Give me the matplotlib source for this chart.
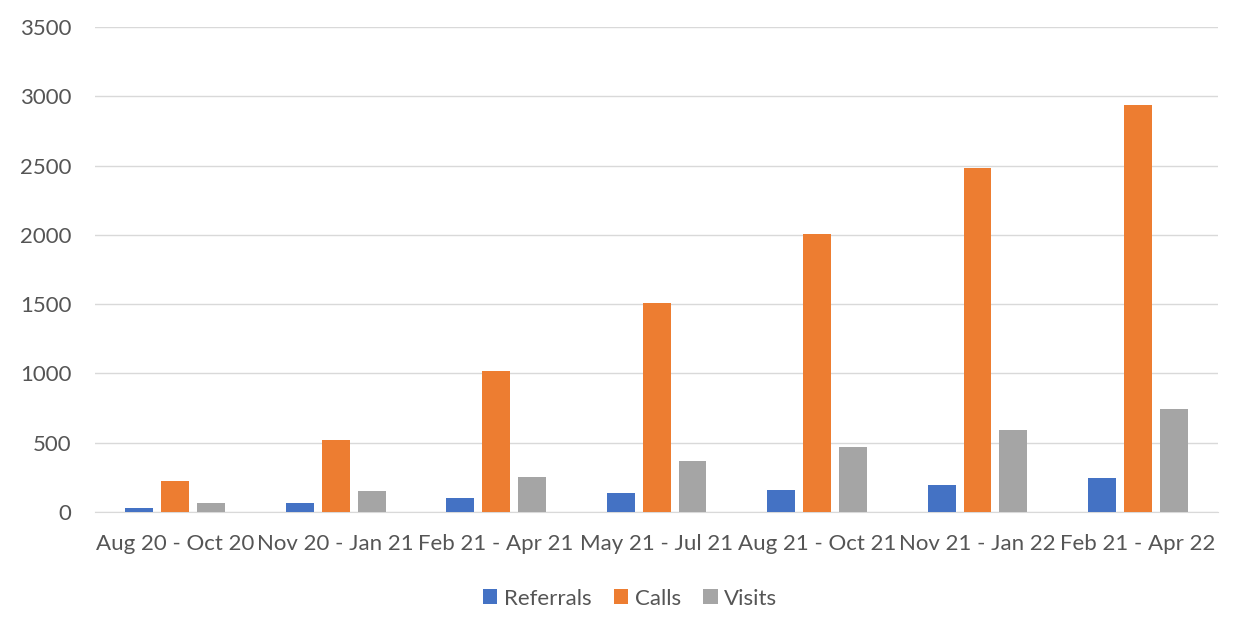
import matplotlib
matplotlib.use("Agg")
import matplotlib.pyplot as plt
import numpy as np

periods = ["Aug 20 - Oct 20", "Nov 20 - Jan 21", "Feb 21 - Apr 21", "May 21 - Jul 21",
           "Aug 21 - Oct 21", "Nov 21 - Jan 22", "Feb 21 - Apr 22"]
referrals = [30, 65, 100, 135, 160, 195, 245]
calls = [220, 520, 1015, 1505, 2005, 2480, 2935]
visits = [65, 150, 255, 365, 470, 590, 740]
y_ticks = [0, 500, 1000, 1500, 2000, 2500, 3000, 3500]

plt.rcParams["font.family"] = ["Lato", "DejaVu Sans"]
text_color = "#555555"

fig = plt.figure(figsize=(12.38, 6.32), dpi=100)
ax = fig.add_axes([0.0767, 0.19, 0.9073, 0.767])

x = np.arange(len(periods))
w = 0.174
step = 0.224
series = [("Referrals", referrals, "#4472C4"),
          ("Calls", calls, "#ED7D31"),
          ("Visits", visits, "#A5A5A5")]
for i, (name, vals, col) in enumerate(series):
    ax.bar(x + (i - 1) * step, vals, width=w, color=col, label=name, zorder=3)

ax.set_xlim(-0.5, len(periods) - 0.5)
ax.set_ylim(0, 3500)
ax.set_yticks(y_ticks)
ax.set_yticklabels([str(v) for v in y_ticks])
ax.set_xticks(x)
ax.set_xticklabels(periods)
ax.yaxis.grid(True, color="#D9D9D9", linewidth=1.0, zorder=0)
ax.set_axisbelow(True)
for s in ["top", "right", "left"]:
    ax.spines[s].set_visible(False)
ax.spines["bottom"].set_color("#D9D9D9")
ax.tick_params(axis="both", length=0, labelsize=16, colors=text_color)
ax.tick_params(axis="y", pad=17)
ax.tick_params(axis="x", pad=16)

leg = fig.legend(loc="center", bbox_to_anchor=(0.509, 0.053), ncol=3, frameon=False,
                 fontsize=16, handlelength=0.65, handleheight=0.65, handletextpad=0.3,
                 columnspacing=1.0)
for t in leg.get_texts():
    t.set_color(text_color)

fig.savefig("out.png", dpi=100, facecolor="white")
